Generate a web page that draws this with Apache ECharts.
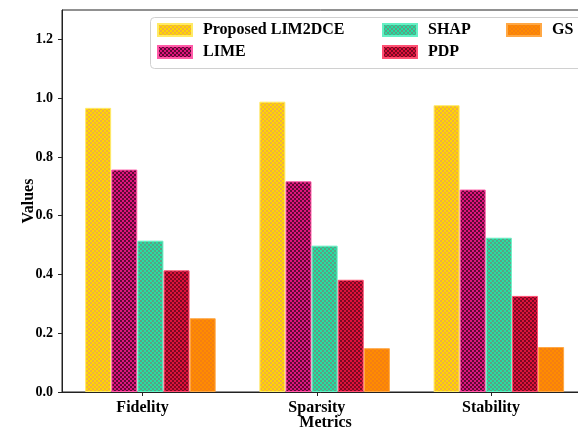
<!DOCTYPE html>
<html>
<head>
<meta charset="utf-8">
<script src="https://cdn.jsdelivr.net/npm/echarts@6/dist/echarts.min.js"></script>
<style>
html,body{margin:0;padding:0;background:#fff;}
#c{width:578px;height:432px;}
</style>
</head>
<body>
<div id="c"></div>
<script>
var categories = ['Fidelity', 'Sparsity', 'Stability'];
var seriesNames = ['Proposed LIM2DCE', 'LIME', 'SHAP', 'PDP', 'GS'];
var lim2dce = [0.967, 0.988, 0.976];
var lime = [0.757, 0.717, 0.689];
var shap = [0.515, 0.498, 0.525];
var pdp = [0.414, 0.382, 0.327];
var gs = [0.251, 0.149, 0.153];
var yTicks = [0, 0.2, 0.4, 0.6, 0.8, 1.0, 1.2];

var values = [lim2dce, lime, shap, pdp, gs];
var baseColors = ['#FFD700', '#E0147C', '#22E0A2', '#E0103C', '#FF8C00'];
var darkColors = ['#F0B040', '#5E0A36', '#5E9E84', '#7A0A22', '#F57F12'];
var edgeColors = ['#FFEA66', '#FF5CA8', '#66F0C4', '#FF5073', '#FFA845'];

function makePattern(base, dark) {
  var cv = document.createElement('canvas');
  cv.width = 4; cv.height = 4;
  var ctx = cv.getContext('2d');
  ctx.fillStyle = base; ctx.fillRect(0, 0, 4, 4);
  ctx.fillStyle = dark;
  ctx.fillRect(0, 0, 2, 2);
  ctx.fillRect(2, 2, 2, 2);
  return { image: cv, repeat: 'repeat' };
}

var barW = 0.15;
var groupStart = -0.255;
var FONT = 'Liberation Serif';

var series = seriesNames.map(function (name, k) {
  return {
    name: name,
    type: 'bar',
    barWidth: 26,
    barGap: '-100%',
    data: categories.map(function (c, i) { return [i + groupStart + k * barW, values[k][i]]; }),
    itemStyle: {
      color: makePattern(baseColors[k], darkColors[k]),
      borderColor: edgeColors[k],
      borderWidth: 1
    },
    emphasis: { disabled: true },
    animation: false
  };
});

var legendCommon = {
  orient: 'vertical',
  padding: 0,
  itemWidth: 34,
  itemHeight: 12,
  itemGap: 6,
  icon: 'rect',
  selectedMode: false,
  textStyle: { fontFamily: FONT, fontWeight: 'bold', fontSize: 16, color: '#000', padding: [0, 0, 0, 6] }
};

var option = {
  animation: false,
  grid: { left: 62, top: 10, width: 527, height: 382, containLabel: false, outerBoundsMode: 'none', show: true, borderColor: '#222', borderWidth: 1, backgroundColor: 'transparent' },
  legend: [
    Object.assign({}, legendCommon, { left: 157, top: 22, data: ['Proposed LIM2DCE', 'LIME'] }),
    Object.assign({}, legendCommon, { left: 382, top: 22, data: ['SHAP', 'PDP'] }),
    Object.assign({}, legendCommon, { left: 506, top: 22, data: ['GS'] })
  ],
  graphic: [{
    type: 'rect', left: 150, top: 17, z: 0,
    shape: { width: 440, height: 51, r: 4 },
    style: { fill: '#fff', stroke: '#d0d0d0', lineWidth: 1 }
  }],
  xAxis: {
    type: 'value',
    min: -0.4625,
    max: 2.5625,
    name: 'Metrics',
    nameLocation: 'middle',
    nameGap: 23,
    nameMoveOverlap: false,
    nameTextStyle: { fontFamily: FONT, fontWeight: 'bold', fontSize: 16, color: '#000' },
    splitLine: { show: false },
    axisLine: { onZero: false, lineStyle: { color: '#222', width: 1 } },
    axisTick: { customValues: [0, 1, 2], length: 4, lineStyle: { color: '#222' } },
    axisLabel: {
      customValues: [0, 1, 2],
      margin: 8,
      fontFamily: FONT, fontWeight: 'bold', fontSize: 16, color: '#000',
      formatter: function (v) { return categories[Math.round(v)] || ''; }
    }
  },
  yAxis: {
    type: 'value',
    min: 0,
    max: 1.3,
    name: 'Values',
    nameLocation: 'middle',
    nameGap: 25,
    nameMoveOverlap: false,
    nameTextStyle: { fontFamily: FONT, fontWeight: 'bold', fontSize: 16, color: '#000' },
    splitLine: { show: false },
    axisLine: { show: true, onZero: false, lineStyle: { color: '#222', width: 1 } },
    axisTick: { show: true, customValues: yTicks, length: 4, lineStyle: { color: '#222' } },
    axisLabel: {
      customValues: yTicks,
      margin: 9,
      fontFamily: FONT, fontWeight: 'bold', fontSize: 14, color: '#000',
      formatter: function (v) { return v.toFixed(1); }
    }
  },
  series: series
};

var chart = echarts.init(document.getElementById('c'), null, { renderer: 'canvas' });
chart.setOption(option);
</script>
</body>
</html>
